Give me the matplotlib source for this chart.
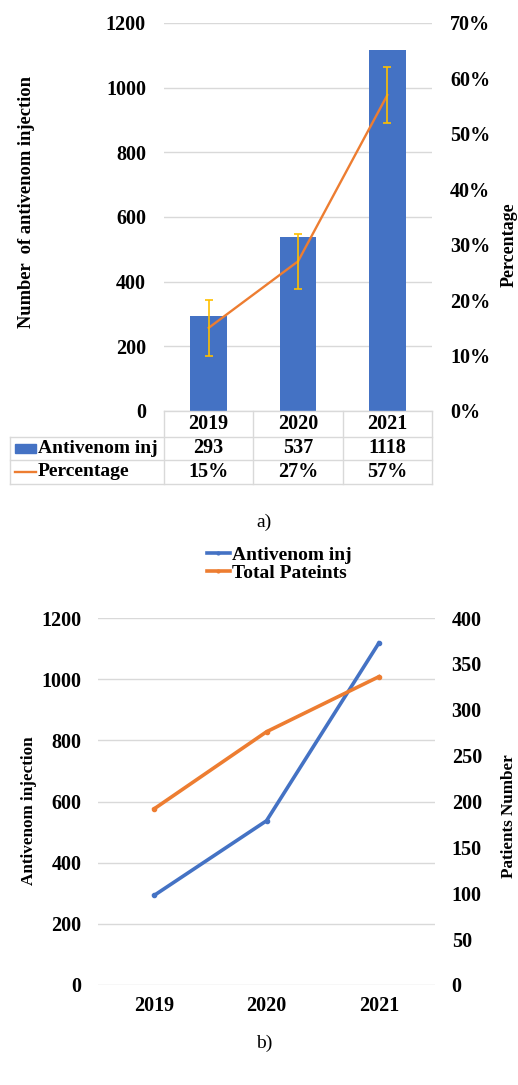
import matplotlib
matplotlib.use("Agg")
import matplotlib.pyplot as plt
from matplotlib.patches import Rectangle
from matplotlib.lines import Line2D
from matplotlib.transforms import blended_transform_factory
from matplotlib.ticker import FuncFormatter

plt.rcParams['font.family'] = ['Liberation Serif', 'DejaVu Serif']
plt.rcParams['font.weight'] = 'bold'
plt.rcParams['font.size'] = 14

# данные
years = ['2019', '2020', '2021']
antivenom = [293, 537, 1118]
percentage = [15, 27, 57]
percentage_err = [5, 5, 5]
total_patients = [192, 276, 336]

BLUE = '#4472C4'
ORANGE = '#ED7D31'
GOLD = '#FFC000'
GRID = '#D9D9D9'

W, H = 518, 1085
fig = plt.figure(figsize=(W / 100, H / 100), dpi=100)


def box(left, top, right, bottom):
    # прямоугольник в пикселях -> координаты фигуры
    return [left / W, 1 - bottom / H, (right - left) / W, (bottom - top) / H]


def clean(ax):
    for s in ax.spines.values():
        s.set_visible(False)
    ax.tick_params(length=0)


x = list(range(len(years)))

# ---------- a) столбцы + процент ----------
ax1 = fig.add_axes(box(164, 23, 432, 411))
ax1.bar(x, antivenom, width=0.41, color=BLUE, zorder=2)
ax1.set_xlim(-0.5, 2.5)
ax1.set_ylim(0, 1200)
ax1.set_yticks(range(0, 1201, 200))
ax1.set_xticks([])
ax1.grid(axis='y', color=GRID, lw=1, zorder=0)
ax1.set_axisbelow(True)
clean(ax1)
ax1.tick_params(axis='y', pad=13, labelsize=14.5)

ax1r = ax1.twinx()
ax1r.plot(x, percentage, color=ORANGE, lw=1.7, zorder=3)
ax1r.errorbar(x, percentage, yerr=percentage_err, fmt='none', ecolor=GOLD,
              elinewidth=1.2, capsize=3, capthick=1.2, zorder=4)
ax1r.set_ylim(0, 70)
ax1r.set_yticks(range(0, 71, 10))
ax1r.yaxis.set_major_formatter(FuncFormatter(lambda v, p: f'{int(v)}%'))
clean(ax1r)
ax1r.tick_params(axis='y', pad=13, labelsize=14.5)

fig.text(27 / W, 1 - 202 / H, 'Number  of antivenom injection', rotation=90,
         ha='center', va='center', fontsize=13.3)
fig.text(509 / W, 1 - 245 / H, 'Percentage', rotation=90,
         ha='center', va='center', fontsize=13)

# таблица данных под графиком
trans = blended_transform_factory(ax1.transData, ax1.transAxes)
col_w = (432 - 164) / 3


def tx(px):
    return -0.5 + (px - 164) / col_w


def ty(py):
    return -(py - 411) / (411 - 23)


rows = [ty(411), ty(437), ty(460), ty(484)]
lk = dict(color=GRID, lw=1, transform=trans, clip_on=False)
ax1.plot([-0.5, 2.5], [rows[0]] * 2, **lk)
for r in rows[1:]:
    ax1.plot([tx(10), 2.5], [r, r], **lk)
ax1.plot([tx(10)] * 2, [rows[1], rows[3]], **lk)
for c in [-0.5, 0.5, 1.5, 2.5]:
    ax1.plot([c, c], [rows[0], rows[3]], **lk)

mid = [(rows[i] + rows[i + 1]) / 2 for i in range(3)]
for i in x:
    ax1.text(i, mid[0], years[i], transform=trans, ha='center', va='center', fontsize=14.5)
    ax1.text(i, mid[1], str(antivenom[i]), transform=trans, ha='center', va='center', fontsize=14.5)
    ax1.text(i, mid[2], f'{percentage[i]}%', transform=trans, ha='center', va='center', fontsize=14.5)

ax1.add_patch(Rectangle((tx(15), mid[1] - 0.011), tx(36) - tx(15), 0.022,
                        color=BLUE, transform=trans, clip_on=False))
ax1.text(tx(38), mid[1], 'Antivenom inj', transform=trans, ha='left', va='center')
ax1.plot([tx(15), tx(36)], [mid[2], mid[2]], color=ORANGE, lw=1.7,
         transform=trans, clip_on=False)
ax1.text(tx(38), mid[2], 'Percentage', transform=trans, ha='left', va='center')

fig.text(264 / W, 1 - 522 / H, 'a)', ha='center', va='center', fontweight='normal')

# ---------- b) две линии ----------
ax2 = fig.add_axes(box(98, 618, 435, 985))
ax2.plot(x, antivenom, color=BLUE, lw=2.6, marker='o', ms=3, zorder=3)
ax2.set_xlim(-0.5, 2.5)
ax2.set_ylim(0, 1200)
ax2.set_yticks(range(0, 1201, 200))
ax2.set_xticks(x)
ax2.set_xticklabels(years)
ax2.grid(axis='y', color=GRID, lw=1, zorder=0)
ax2.set_axisbelow(True)
clean(ax2)
ax2.tick_params(axis='y', pad=12, labelsize=14.5)
ax2.tick_params(axis='x', pad=8, labelsize=14.5)

ax2r = ax2.twinx()
ax2r.plot(x, total_patients, color=ORANGE, lw=2.6, marker='o', ms=3, zorder=3)
ax2r.set_ylim(0, 400)
ax2r.set_yticks(range(0, 401, 50))
clean(ax2r)
ax2r.tick_params(axis='y', pad=12, labelsize=14.5)

fig.text(29 / W, 1 - 811 / H, 'Antivenom injection', rotation=90,
         ha='center', va='center', fontsize=12.3)
fig.text(509 / W, 1 - 816 / H, 'Patients Number', rotation=90,
         ha='center', va='center', fontsize=12.3)

handles = [Line2D([], [], color=BLUE, lw=2.6, marker='o', ms=2),
           Line2D([], [], color=ORANGE, lw=2.6, marker='o', ms=2)]
fig.legend(handles, ['Antivenom inj', 'Total Pateints'], loc='center',
           bbox_to_anchor=(279 / W, 1 - 564 / H), frameon=False,
           handlelength=1.2, handletextpad=0.1, labelspacing=0.0,
           borderpad=0)

fig.text(264 / W, 1 - 1043 / H, 'b)', ha='center', va='center', fontweight='normal')

fig.savefig('out.png', dpi=100, facecolor='white')
